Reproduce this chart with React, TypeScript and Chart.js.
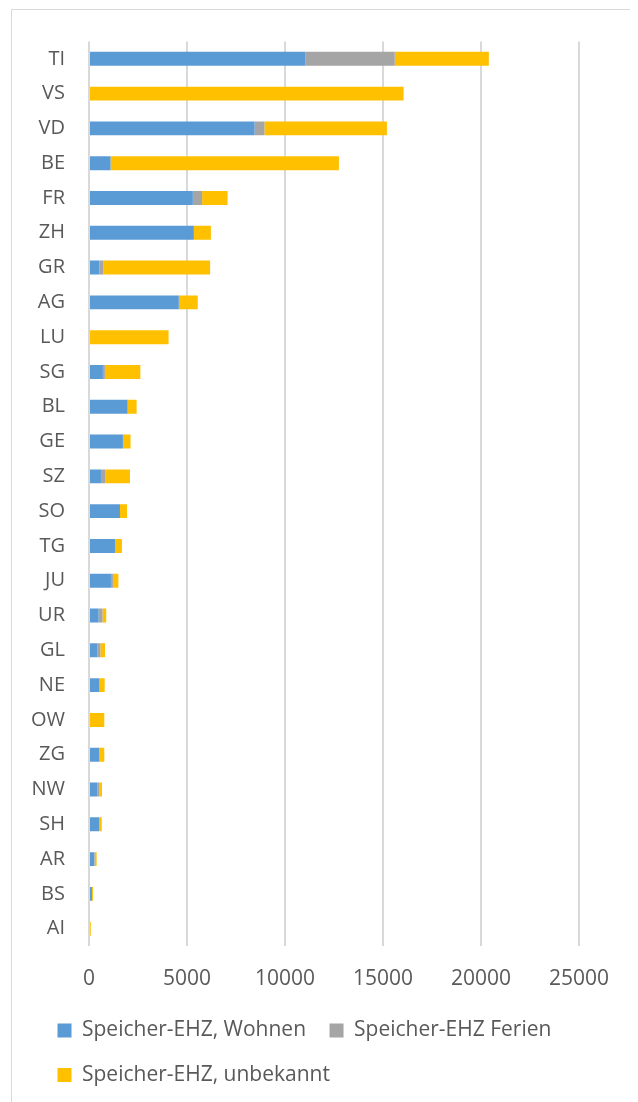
import React, { useEffect, useRef } from "react";
import { Chart, registerables } from "chart.js";

Chart.register(...registerables);

const categories = ["TI", "VS", "VD", "BE", "FR", "ZH", "GR", "AG", "LU", "SG", "BL", "GE", "SZ", "SO", "TG", "JU", "UR", "GL", "NE", "OW", "ZG", "NW", "SH", "AR", "BS", "AI"];
const wohnen = [11050, 0, 8450, 1100, 5300, 5350, 530, 4580, 0, 710, 1970, 1730, 610, 1580, 1330, 1120, 490, 420, 530, 0, 510, 420, 510, 270, 150, 0];
const ferien = [4550, 0, 500, 0, 470, 0, 200, 50, 0, 100, 0, 0, 220, 0, 0, 100, 200, 160, 0, 0, 0, 100, 0, 20, 0, 50];
const unbekannt = [4800, 16050, 6250, 11650, 1300, 870, 5450, 920, 4060, 1810, 460, 390, 1260, 360, 350, 280, 190, 240, 270, 780, 270, 140, 140, 100, 50, 40];
const seriesNames = ["Speicher-EHZ, Wohnen", "Speicher-EHZ Ferien", "Speicher-EHZ, unbekannt"];
const seriesColors = ["#5B9BD5", "#A5A5A5", "#FFC000"];
const xTicks = [0, 5000, 10000, 15000, 20000, 25000];

const legendShift = {
  id: "legendShift",
  afterLayout(chart: any) {
    const lg = chart.legend;
    if (lg) {
      lg.left += 22;
      lg.right += 22;
    }
  },
};

export default function App() {
  const ref = useRef<HTMLCanvasElement | null>(null);

  useEffect(() => {
    if (!ref.current) return;
    const textColor = "#595959";
    const font = "'Open Sans', sans-serif";
    const chart = new Chart(ref.current, {
      type: "bar",
      data: {
        labels: categories,
        datasets: [wohnen, ferien, unbekannt].map((d, i) => ({
          label: seriesNames[i],
          data: d,
          backgroundColor: seriesColors[i],
          borderWidth: 0,
          barPercentage: 0.4,
          categoryPercentage: 1,
        })),
      },
      options: {
        indexAxis: "y",
        animation: false,
        responsive: false,
        devicePixelRatio: 1,
        layout: { padding: { left: 0, right: 10, top: 31.4, bottom: 6.5 } },
        scales: {
          x: {
            stacked: true,
            min: 0,
            max: 27500,
            grid: { color: "#D9D9D9", lineWidth: 2, drawTicks: false },
            border: { display: false },
            afterBuildTicks: (s: any) => {
              s.ticks = xTicks.map((v) => ({ value: v }));
            },
            ticks: {
              autoSkip: false,
              maxRotation: 0,
              padding: 20,
              color: textColor,
              font: { family: font, size: 21 },
              callback: (v: any) => String(v),
            },
            afterFit: (s: any) => {
              s.height = 50.4;
            },
          },
          y: {
            stacked: true,
            grid: { display: false, drawTicks: false },
            border: { display: false },
            ticks: {
              padding: 24,
              color: textColor,
              font: { family: font, size: 20 },
              autoSkip: false,
            },
            afterFit: (s: any) => {
              s.width = 77;
              s.paddingTop = 0;
              s.paddingBottom = 0;
            },
          },
        },
        plugins: {
          legend: {
            position: "bottom",
            align: "start",
            labels: {
              boxWidth: 14,
              boxHeight: 14,
              padding: 23.5,
              color: textColor,
              font: { family: font, size: 21 },
            },
          },
          tooltip: { enabled: false },
        },
      },
      plugins: [legendShift],
    });
    return () => chart.destroy();
  }, []);

  return (
    <div style={{ position: "relative", width: 630, height: 1094, overflow: "hidden" }}>
      <div
        style={{
          position: "absolute",
          left: 3,
          top: 1,
          width: 700,
          height: 1200,
          border: "1px solid #D9D9D9",
          boxSizing: "border-box",
          background: "#fff",
        }}
      >
        <canvas ref={ref} width={626} height={1092} style={{ display: "block", width: 626, height: 1092 }} />
      </div>
    </div>
  );
}
